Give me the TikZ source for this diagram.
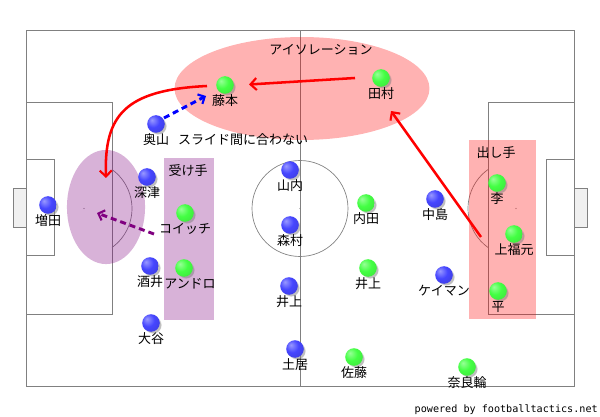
\documentclass[tikz,border=0pt]{standalone}
\usepackage{fontspec}
\newfontfamily\jp{Noto Sans CJK JP}
\newfontfamily\monof{DejaVu Sans Mono}
\usetikzlibrary{arrows.meta,shadows}
\definecolor{fieldgray}{HTML}{808080}
\definecolor{goalfill}{HTML}{F0F0F0}
\definecolor{bluebase}{HTML}{4646FF}
\definecolor{greenbase}{HTML}{44FF44}
\definecolor{zonepurplec}{HTML}{800080}
\pgfdeclareradialshading{blueball}{\pgfpoint{-12bp}{12bp}}{color(0bp)=(bluebase!55!white); color(18bp)=(bluebase); color(40bp)=(bluebase!85!black); color(60bp)=(bluebase!70!black)}
\pgfdeclareradialshading{greenball}{\pgfpoint{-12bp}{12bp}}{color(0bp)=(greenbase!55!white); color(18bp)=(greenbase); color(40bp)=(greenbase!88!black); color(60bp)=(greenbase!75!black)}
\tikzset{
  fieldline/.style={draw=fieldgray, line width=0.75pt},
  thinarc/.style={draw=fieldgray, line width=0.5pt},
  zonered/.style={fill=red, fill opacity=0.3, draw=none},
  zonepurple/.style={fill=zonepurplec, fill opacity=0.3, draw=none},
  ballbase/.style={circle, minimum size=13.2pt, inner sep=0pt,
     circular drop shadow={shadow xshift=1.5pt, shadow yshift=-1.5pt, opacity=0.5, shadow scale=1.0}},
  blueplayer/.style={ballbase, shading=blueball},
  greenplayer/.style={ballbase, shading=greenball},
  lbl/.style={font=\jp\fontsize{9.75pt}{11pt}\selectfont, inner sep=0pt, text=black},
  redarrow/.style={draw=red, line width=1.9pt, -{Straight Barb[length=4.5pt,width=9pt,line width=1.6pt]}},
  dasharrow/.style={line width=2.2pt, dash pattern=on 4.5pt off 3pt, -{Straight Barb[length=4pt,width=8pt,line width=1.6pt]}},
}
\newcommand{\plyr}[6]{%
  \node[#1] (#2) at (#3,#4) {};
  \node[lbl] (#2-l) at (#3,#4+16) {#5#6};
}
\begin{document}
\begin{tikzpicture}[x=0.75pt,y=-0.75pt]
\useasboundingbox (0,0) rectangle (600,417);
\fill[white] (0,0) rectangle (600,417);
% field
\draw[fieldline] (26,31) rectangle (574,386);
\draw[fieldline] (300,31) -- (300,386);
\draw[thinarc] (300,208.5) circle[radius=36pt];
\fill[fieldgray] (300,208.5) circle[radius=0.5pt];
% left
\draw[fieldline] (26,103) rectangle (112,314);
\draw[fieldline] (26,160) rectangle (54,256);
\draw[fieldline, fill=goalfill] (13,189) rectangle (26,228);
\fill[fieldgray] (84,208.5) circle[radius=0.5pt];
\draw[thinarc] ([shift={(-54.3:36pt)}]84,208.5) arc[start angle=-54.3, end angle=54.3, radius=36pt];
% right
\draw[fieldline] (488,103) rectangle (574,314);
\draw[fieldline] (546,160) rectangle (574,256);
\draw[fieldline, fill=goalfill] (574,189) rectangle (587,228);
\fill[fieldgray] (516,208.5) circle[radius=0.5pt];
\draw[thinarc] ([shift={(125.7:36pt)}]516,208.5) arc[start angle=125.7, end angle=234.3, radius=36pt];
% zones
\fill[zonered] (302,88.5) ellipse[x radius=95.6pt, y radius=38.6pt];
\fill[zonepurple] (106,207) ellipse[x radius=29.3pt, y radius=42.8pt];
\fill[zonepurple] (164,158) rectangle (214,320);
\fill[zonered] (469,140) rectangle (536,319);
\node[lbl] (isolab) at (321,50) {アイソレーション};
\node[lbl] (ukelab) at (188,171) {受け手};
\node[lbl] (dashilab) at (496,153) {出し手};
\node[lbl] (slidelab) at (243,140) {スライド間に合わない};
% players blue
\plyr{blueplayer}{okuyama}{156}{124}{奥山}{}
\plyr{blueplayer}{fukatsu}{147}{177}{深津}{}
\plyr{blueplayer}{masuda}{48}{205}{増田}{}
\plyr{blueplayer}{sakai}{150}{266}{酒井}{}
\plyr{blueplayer}{otani}{151}{323}{大谷}{}
\plyr{blueplayer}{yamauchi}{290}{170}{山内}{}
\plyr{blueplayer}{morimura}{290}{225}{森村}{}
\plyr{blueplayer}{inoueb}{289}{286}{井上}{}
\plyr{blueplayer}{doi}{295}{349}{土居}{}
\plyr{blueplayer}{nakajima}{435}{199}{中島}{}
\plyr{blueplayer}{cayman}{444}{275}{ケイマン}{}
% players green
\plyr{greenplayer}{fujimoto}{225}{85}{藤本}{}
\plyr{greenplayer}{tamura}{381}{78}{田村}{}
\plyr{greenplayer}{koicchi}{185}{213}{コイッチ}{}
\node[greenplayer] (andoro) at (184,268) {};
\node[lbl] (andoro-l) at (190,284) {アンドロ};
\plyr{greenplayer}{uchida}{366}{203}{内田}{}
\plyr{greenplayer}{inoueg}{368}{268}{井上}{}
\plyr{greenplayer}{lee}{497}{183}{李}{}
\plyr{greenplayer}{kamifuku}{514}{234}{上福元}{}
\plyr{greenplayer}{taira}{498}{291}{平}{}
\plyr{greenplayer}{sato}{354}{357}{佐藤}{}
\plyr{greenplayer}{narawa}{467}{367}{奈良輪}{}
% arrow end points
\coordinate (a1s) at (355,78);
\coordinate (a1e) at (249,84.5);
\coordinate (a2s) at (207,86);
\coordinate (a2e) at (106,178);
\coordinate (a3s) at (481,237);
\coordinate (a3e) at (391,111);
\coordinate (b1s) at (164,118);
\coordinate (b1e) at (206,96);
\coordinate (p1s) at (154,234);
\coordinate (p1e) at (97,213);
\draw[redarrow] (a1s) -- (a1e);
\draw[redarrow] (a2s) .. controls (125,90) and (104,115) .. (a2e);
\draw[redarrow] (a3s) -- (a3e);
\draw[dasharrow, draw=blue] (b1s) -- (b1e);
\draw[dasharrow, draw=zonepurplec] (p1s) -- (p1e);
% footer
\node[anchor=east, font=\monof\fontsize{7.6pt}{9pt}\selectfont, inner sep=0pt] (footer) at (598,410) {powered by footballtactics.net};
\end{tikzpicture}
\end{document}
